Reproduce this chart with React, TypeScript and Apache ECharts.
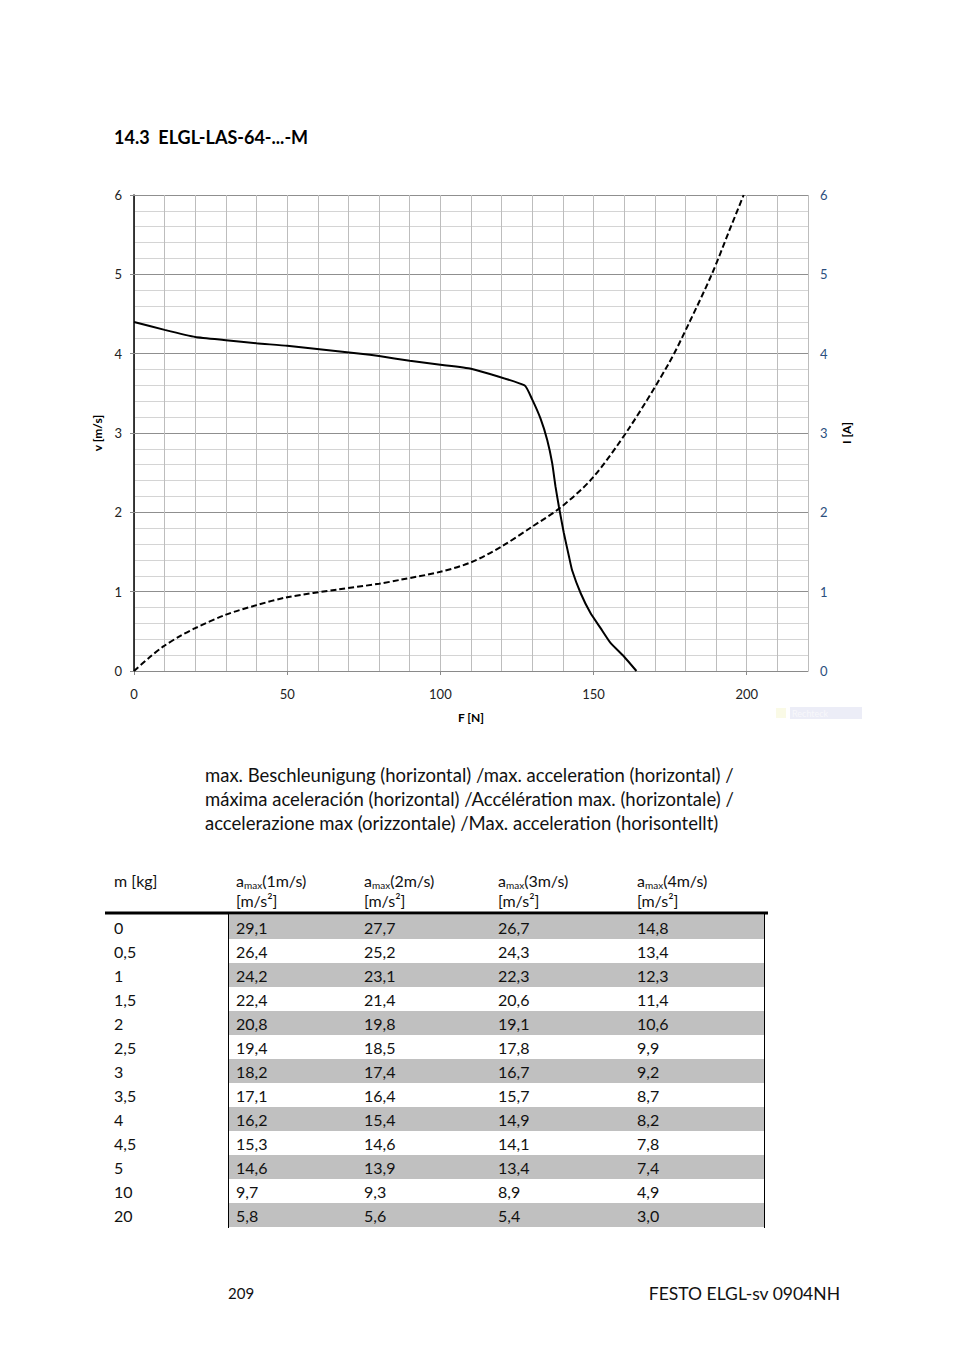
import React, { useEffect, useRef } from "react";
import * as echarts from "echarts";

// ---- Chart data ----
const solidF = [0, 10, 20, 30, 40, 50, 74, 80, 90, 100, 110, 127.5, 130, 132.7, 134.9, 136.5, 137.6, 138.7, 140.3, 142, 143, 145.8, 149, 152.3, 155.6, 160, 164];
const solidV = [4.40, 4.30, 4.21, 4.17, 4.13, 4.10, 4.0, 3.97, 3.91, 3.86, 3.81, 3.60, 3.42, 3.18, 2.91, 2.62, 2.32, 2.07, 1.74, 1.44, 1.27, 0.98, 0.73, 0.54, 0.35, 0.18, 0.0];

const dashedF = [0, 5, 9.6, 15, 20, 30, 40, 50, 67, 80, 87, 100, 110, 120, 130, 139.2, 149.6, 161.6, 174.6, 181.1, 188.7, 194.2, 199];
const dashedI = [0, 0.17, 0.31, 0.44, 0.54, 0.71, 0.83, 0.93, 1.03, 1.10, 1.15, 1.25, 1.37, 1.57, 1.82, 2.06, 2.43, 3.06, 3.88, 4.38, 5.01, 5.54, 6.0];

const xLabelValues = [0, 50, 100, 150, 200];

// ---- Table data ----
const masses = [0, 0.5, 1, 1.5, 2, 2.5, 3, 3.5, 4, 4.5, 5, 10, 20];
const amax1 = [29.1, 26.4, 24.2, 22.4, 20.8, 19.4, 18.2, 17.1, 16.2, 15.3, 14.6, 9.7, 5.8];
const amax2 = [27.7, 25.2, 23.1, 21.4, 19.8, 18.5, 17.4, 16.4, 15.4, 14.6, 13.9, 9.3, 5.6];
const amax3 = [26.7, 24.3, 22.3, 20.6, 19.1, 17.8, 16.7, 15.7, 14.9, 14.1, 13.4, 8.9, 5.4];
const amax4 = [14.8, 13.4, 12.3, 11.4, 10.6, 9.9, 9.2, 8.7, 8.2, 7.8, 7.4, 4.9, 3.0];
const speedHeaders = ["1m/s", "2m/s", "3m/s", "4m/s"];

const titleText = "14.3  ELGL-LAS-64-...-M";
const paragraphLines = [
  "max. Beschleunigung (horizontal) /max. acceleration (horizontal) /",
  "máxima aceleración (horizontal) /Accélération max. (horizontale) /",
  "accelerazione max (orizzontale) /Max. acceleration (horisontellt)",
];

const FONT = "Lato, 'Open Sans', sans-serif";

const fmt = (v: number) => v.toFixed(1).replace(".", ",");
const fmtM = (v: number) => String(v).replace(".", ",");

export default function App() {
  const ref = useRef<HTMLDivElement>(null);

  useEffect(() => {
    if (!ref.current) return;
    const chart = echarts.init(ref.current, undefined, { renderer: "svg" });

    const colX = [114, 236, 364, 498, 637];
    const rowY0 = 927;
    const rowH = 24;
    const tableCols = [amax1, amax2, amax3, amax4];

    const graphics: any[] = [];
    // title
    graphics.push({
      type: "text", x: 114, y: 137,
      style: { text: titleText, font: `bold 18px ${FONT}`, fill: "#000", verticalAlign: "middle", textAlign: "left" },
    });
    // paragraph
    paragraphLines.forEach((t, i) => {
      graphics.push({
        type: "text", x: 205, y: 775 + i * 24,
        style: { text: t, font: `18.5px ${FONT}`, fill: "#111", verticalAlign: "middle", textAlign: "left" },
      });
    });
    // gray rows
    masses.forEach((_, i) => {
      if (i % 2 === 0) {
        graphics.push({
          type: "rect", shape: { x: 228, y: rowY0 - 12 + i * rowH, width: 536, height: rowH },
          style: { fill: "#c0c0c0" }, silent: true,
        });
      }
    });
    // borders
    graphics.push({ type: "line", shape: { x1: 105, y1: 913, x2: 768, y2: 913 }, style: { stroke: "#000", lineWidth: 3 } });
    graphics.push({ type: "line", shape: { x1: 228.5, y1: 914, x2: 228.5, y2: 1228 }, style: { stroke: "#000", lineWidth: 1 } });
    graphics.push({ type: "line", shape: { x1: 764.5, y1: 914, x2: 764.5, y2: 1228 }, style: { stroke: "#000", lineWidth: 1 } });
    // header
    graphics.push({
      type: "text", x: colX[0], y: 880,
      style: { text: "m [kg]", font: `16px ${FONT}`, fill: "#111", verticalAlign: "middle", textAlign: "left" },
    });
    speedHeaders.forEach((s, j) => {
      graphics.push({
        type: "text", x: colX[j + 1], y: 880,
        style: {
          text: `{a|a}{s|max}{a|(${s})}`, verticalAlign: "middle", textAlign: "left",
          rich: {
            a: { fontFamily: FONT, fontSize: 16, fill: "#111", lineHeight: 20 },
            s: { fontFamily: FONT, fontSize: 10, fill: "#111", lineHeight: 12, verticalAlign: "bottom" },
          },
        },
      });
      graphics.push({
        type: "text", x: colX[j + 1], y: 900,
        style: { text: "[m/s²]", font: `16px ${FONT}`, fill: "#111", verticalAlign: "middle", textAlign: "left" },
      });
    });
    // rows
    masses.forEach((m, i) => {
      const y = rowY0 + i * rowH;
      graphics.push({
        type: "text", x: colX[0], y,
        style: { text: fmtM(m), font: `16px ${FONT}`, fill: "#111", verticalAlign: "middle", textAlign: "left" },
      });
      tableCols.forEach((col, j) => {
        graphics.push({
          type: "text", x: colX[j + 1], y,
          style: { text: fmt(col[i]), font: `16px ${FONT}`, fill: "#111", verticalAlign: "middle", textAlign: "left" },
        });
      });
    });
    // footer
    graphics.push({
      type: "text", x: 228, y: 1293,
      style: { text: "209", font: `15px ${FONT}`, fill: "#111", verticalAlign: "middle", textAlign: "left" },
    });
    graphics.push({
      type: "text", x: 840, y: 1293,
      style: { text: "FESTO ELGL-sv 0904NH", font: `17.5px ${FONT}`, fill: "#111", verticalAlign: "middle", textAlign: "right" },
    });
    // faint leftover legend box
    graphics.push({ type: "rect", shape: { x: 790, y: 707, width: 72, height: 12 }, style: { fill: "#ecedf7" } });
    graphics.push({ type: "rect", shape: { x: 776, y: 708, width: 10, height: 10 }, style: { fill: "#fafae6" } });
    graphics.push({
      type: "text", x: 792, y: 713,
      style: { text: "Rechteck", font: `9px ${FONT}`, fill: "#f8f8fb", verticalAlign: "middle", textAlign: "left" },
    });

    const axisLabelStyle = { fontFamily: FONT, fontSize: 13, color: "#222" };
    const nameStyle = { fontFamily: FONT, fontSize: 12, fontWeight: "bold" as const, color: "#000" };

    chart.setOption({
      animation: false,
      backgroundColor: "#fff",
      grid: { left: 134, top: 195, width: 674, height: 476, containLabel: false },
      xAxis: [
        {
          type: "value", min: 0, max: 220, interval: 10, position: "bottom",
          axisLine: { show: true, lineStyle: { color: "#8a8a8a", width: 1 } },
          axisTick: { show: false },
          axisLabel: { show: false },
          splitLine: { show: true, lineStyle: { color: "#bdbdbd", width: 1 } },
          name: "F [N]", nameLocation: "middle", nameGap: 40, nameTextStyle: nameStyle,
        },
        {
          type: "value", min: 0, max: 220, interval: 50, position: "bottom",
          axisLine: { show: false },
          axisTick: { show: true, length: 4, lineStyle: { color: "#8a8a8a" }, customValues: xLabelValues },
          axisLabel: {
            ...axisLabelStyle, margin: 16, customValues: xLabelValues,
            formatter: (v: number) => (v % 50 === 0 ? String(v) : ""),
          },
          splitLine: { show: false },
        },
      ],
      yAxis: [
        {
          type: "value", min: 0, max: 6, interval: 1, position: "left",
          axisLine: { show: true, lineStyle: { color: "#000", width: 1.5 } },
          axisTick: { show: true, length: 4, lineStyle: { color: "#8a8a8a" } },
          axisLabel: { ...axisLabelStyle, margin: 12 },
          splitLine: { show: true, lineStyle: { color: "#8f8f8f", width: 1 } },
          minorTick: { show: false, splitNumber: 5 },
          minorSplitLine: { show: true, lineStyle: { color: "#d4d4d4", width: 1 } },
          name: "v [m/s]", nameLocation: "middle", nameGap: 28, nameRotate: 90, nameTextStyle: nameStyle,
        },
        {
          type: "value", min: 0, max: 6, interval: 1, position: "right",
          axisLine: { show: false },
          axisTick: { show: true, length: 4, lineStyle: { color: "#8a8a8a" } },
          axisLabel: { ...axisLabelStyle, color: "#2b4f7e", margin: 12 },
          splitLine: { show: false },
          name: "I [A]", nameLocation: "middle", nameGap: 32, nameRotate: 90, nameTextStyle: nameStyle,
        },
      ],
      series: [
        {
          type: "line", xAxisIndex: 0, yAxisIndex: 0,
          data: solidF.map((f, i) => [f, solidV[i]]),
          symbol: "none", smooth: 0.15,
          lineStyle: { color: "#000", width: 2 },
        },
        {
          type: "line", xAxisIndex: 0, yAxisIndex: 1,
          data: dashedF.map((f, i) => [f, dashedI[i]]),
          symbol: "none", smooth: 0.3,
          lineStyle: { color: "#000", width: 2, type: [6, 3] },
        },
      ],
      graphic: graphics,
    });

    return () => chart.dispose();
  }, []);

  return (
    <div style={{ position: "absolute", left: 0, top: 0, width: 954, height: 1350, background: "#fff" }}>
      <div ref={ref} style={{ width: 954, height: 1350 }} />
    </div>
  );
}
